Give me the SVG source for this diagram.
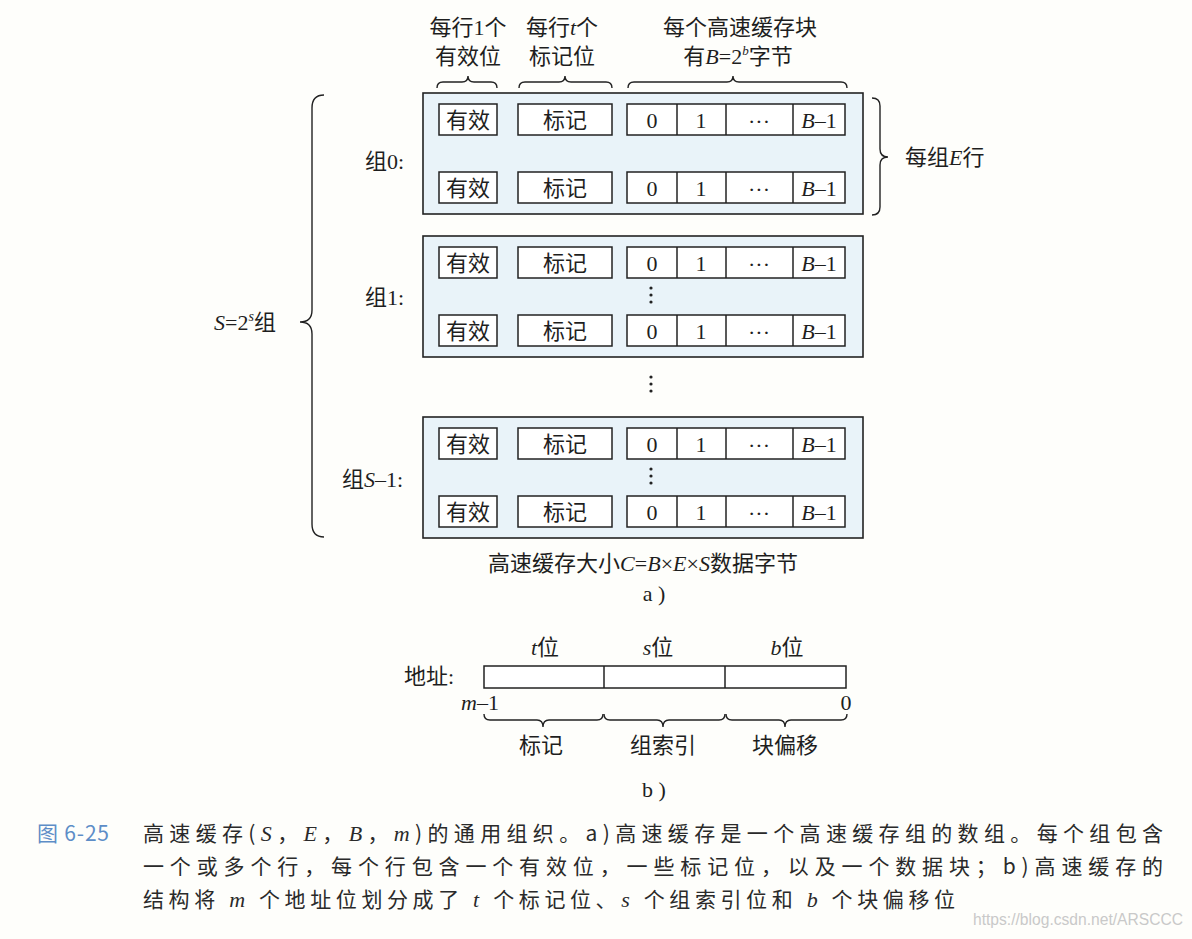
<svg xmlns="http://www.w3.org/2000/svg" width="1192" height="939" viewBox="0 0 1192 939">
<style>
text{font-family:"Liberation Serif","Noto Sans CJK SC",serif;fill:#1e1e1e;}
.c{text-anchor:middle;}
.t22{font-size:22px;}
.i{font-style:italic;}
.box{fill:#fff;stroke:#222;stroke-width:1.5;}
.set{fill:#e9f3f9;stroke:#222;stroke-width:1.6;}
.ln{fill:none;stroke:#222;stroke-width:1.5;}
.br{fill:none;stroke:#222;stroke-width:1.4;}
.dot{fill:#222;}
.cap{font-family:"Noto Sans CJK SC","Liberation Serif",sans-serif;font-size:21px;fill:#2a2a2a;}
.ci{font-family:"Liberation Serif",serif;font-style:italic;font-size:22px;}
</style>
<defs>
<g id="row">
<rect class="box" x="439" y="0" width="58" height="31"/>
<text class="c t22" x="468" y="24">有效</text>
<rect class="box" x="518" y="0" width="94" height="31"/>
<text class="c t22" x="565" y="24">标记</text>
<rect class="box" x="627" y="0" width="218" height="31"/>
<line class="ln" x1="677" y1="0" x2="677" y2="31"/>
<line class="ln" x1="726" y1="0" x2="726" y2="31"/>
<line class="ln" x1="793" y1="0" x2="793" y2="31"/>
<text class="c t22" x="652" y="24">0</text>
<text class="c t22" x="701" y="24">1</text>
<text class="c t22" x="759" y="25">···</text>
<text class="c t22" x="819" y="24"><tspan class="i">B</tspan>–1</text>
</g>
</defs>
<rect width="1192" height="939" fill="#fefefb"/>

<g id="header">
<text class="c t22" x="468" y="35">每行1个</text>
<text class="c t22" x="468" y="64">有效位</text>
<text class="c t22" x="562" y="35">每行<tspan class="i">t</tspan>个</text>
<text class="c t22" x="562" y="64">标记位</text>
<text class="c t22" x="740" y="35">每个高速缓存块</text>
<text class="c t22" x="738" y="64">有<tspan class="i">B</tspan>=2<tspan class="i" font-size="13" dy="-9">b</tspan><tspan dy="9">字节</tspan></text>
</g>

<g id="set0">
<rect class="set" x="423" y="93" width="440" height="121"/>
<use href="#row" y="104"/>
<use href="#row" y="172"/>
<text class="t22" x="365" y="169">组0:</text>
</g>

<g id="set1">
<rect class="set" x="423" y="236" width="440" height="121"/>
<use href="#row" y="247"/>
<use href="#row" y="315"/>
<circle class="dot" cx="651" cy="288" r="1.6"/>
<circle class="dot" cx="651" cy="295" r="1.6"/>
<circle class="dot" cx="651" cy="302" r="1.6"/>
<text class="t22" x="365" y="305">组1:</text>
</g>

<g id="ellipsis">
<circle class="dot" cx="651" cy="377" r="1.6"/>
<circle class="dot" cx="651" cy="384" r="1.6"/>
<circle class="dot" cx="651" cy="391" r="1.6"/>
</g>

<g id="setS">
<rect class="set" x="423" y="417" width="440" height="121"/>
<use href="#row" y="428"/>
<use href="#row" y="496"/>
<circle class="dot" cx="651" cy="469" r="1.6"/>
<circle class="dot" cx="651" cy="476" r="1.6"/>
<circle class="dot" cx="651" cy="483" r="1.6"/>
<text class="t22" x="342" y="487">组<tspan class="i">S</tspan>–1:</text>
</g>

<g id="connectors">
<path class="br" d="M437,88 Q437,82 443,82 L462,82 Q468,82 468,76 Q468,82 474,82 L491,82 Q497,82 497,88"/>
<path class="br" d="M519,88 Q519,82 525,82 L559,82 Q565,82 565,76 Q565,82 571,82 L606,82 Q612,82 612,88"/>
<path class="br" d="M628,88 Q628,82 634,82 L727,82 Q733,82 733,76 Q733,82 739,82 L841,82 Q847,82 847,88"/>
<path class="br" d="M324,95 Q312,95 312,108 L312,310 Q312,322 300,322 Q312,322 312,334 L312,524 Q312,537 324,537"/>
<path class="br" d="M872,98 Q880,98 880,106 L880,149 Q880,157 888,157 Q880,157 880,165 L880,207 Q880,215 872,215"/>
<path class="br" d="M484,714 Q484,720 490,720 L537,720 Q543,720 543,727 Q543,720 549,720 L597,720 Q603,720 603,714"/>
<path class="br" d="M604,714 Q604,720 610,720 L657,720 Q663,720 663,727 Q663,720 669,720 L719,720 Q725,720 725,714"/>
<path class="br" d="M726,714 Q726,720 732,720 L779,720 Q785,720 785,727 Q785,720 791,720 L841,720 Q847,720 847,714"/>
</g>

<g id="labels">
<text class="t22" x="905" y="165">每组<tspan class="i">E</tspan>行</text>
<text class="t22" x="214" y="330"><tspan class="i">S</tspan>=2<tspan class="i" font-size="14" dy="-9">s</tspan><tspan dy="9">组</tspan></text>
<text class="c t22" x="643" y="571">高速缓存大小<tspan class="i">C</tspan>=<tspan class="i">B</tspan>×<tspan class="i">E</tspan>×<tspan class="i">S</tspan>数据字节</text>
<text class="c t22" x="654" y="601">a )</text>
</g>

<g id="address">
<rect class="box" x="484" y="666" width="362" height="22"/>
<line class="ln" x1="604" y1="666" x2="604" y2="688"/>
<line class="ln" x1="725" y1="666" x2="725" y2="688"/>
<text class="c t22" x="545" y="655"><tspan class="i">t</tspan>位</text>
<text class="c t22" x="658" y="655"><tspan class="i">s</tspan>位</text>
<text class="c t22" x="787" y="655"><tspan class="i">b</tspan>位</text>
<text class="t22" x="404" y="684">地址:</text>
<text class="t22" x="461" y="710"><tspan class="i">m</tspan>–1</text>
<text class="c t22" x="846" y="710">0</text>
<text class="c t22" x="541" y="753">标记</text>
<text class="c t22" x="663" y="753">组索引</text>
<text class="c t22" x="785" y="753">块偏移</text>
<text class="c t22" x="654" y="797">b )</text>
</g>

<g id="caption">
<text class="cap" x="37" y="841" style="fill:#5d8dc7" textLength="72" lengthAdjust="spacing">图 6-25</text>
<text class="cap" x="143" y="841" textLength="1020" lengthAdjust="spacing">高速缓存(<tspan class="ci">S</tspan>，<tspan class="ci">E</tspan>，<tspan class="ci">B</tspan>，<tspan class="ci">m</tspan>)的通用组织。a)高速缓存是一个高速缓存组的数组。每个组包含</text>
<text class="cap" x="143" y="874" textLength="1020" lengthAdjust="spacing">一个或多个行，每个行包含一个有效位，一些标记位，以及一个数据块；b)高速缓存的</text>
<text class="cap" x="143" y="907" textLength="812" lengthAdjust="spacing">结构将 <tspan class="ci">m</tspan> 个地址位划分成了 <tspan class="ci">t</tspan> 个标记位、<tspan class="ci">s</tspan> 个组索引位和 <tspan class="ci">b</tspan> 个块偏移位</text>
<text x="973" y="925" textLength="210" lengthAdjust="spacingAndGlyphs" style="font-family:'Liberation Sans',sans-serif;font-size:16px;fill:#c9c9c9">https://blog.csdn.net/ARSCCC</text>
</g>
</svg>
